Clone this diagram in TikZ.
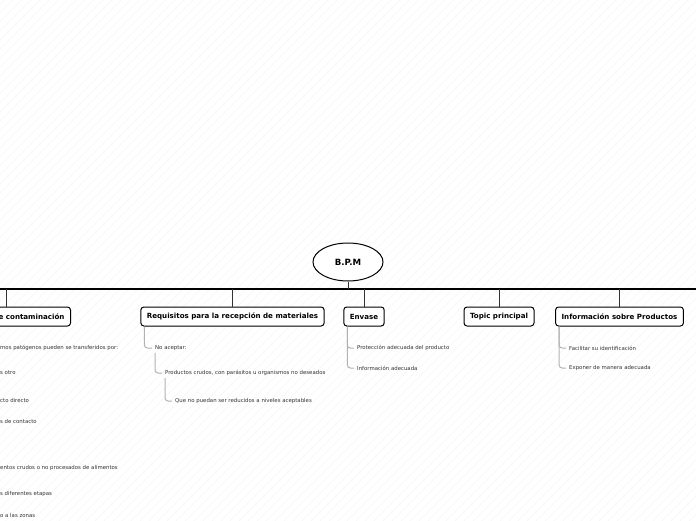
\documentclass[tikz,border=0pt]{standalone}
\usepackage{fontspec}
\setmainfont{DejaVu Sans}
\usetikzlibrary{shapes.geometric}

\begin{document}
\begin{tikzpicture}[x=1pt, y=-1pt,
    topic/.style={draw, line width=1pt, rounded corners=3pt, fill=white,
        minimum height=19pt, inner xsep=6pt, font=\fontsize{7.1}{8}\selectfont\bfseries},
    sub/.style={anchor=west, inner sep=0pt, text=black!80,
        font=\fontsize{5.4}{6}\selectfont},
    link/.style={draw=black!30, line width=1pt, rounded corners=3pt, shorten >=3pt},
    branch/.style={draw=black!80, line width=1pt}]
    \useasboundingbox (0,0) rectangle (696,520);
    \clip (0,0) rectangle (696,520);

    % faint hatching of the canvas
    \foreach \i in {0,9,...,1224}
        \draw[black!4, line width=0.4pt] (\i-530,525) -- (\i,-5);

    % central idea
    \node[draw, line width=1pt, ellipse, minimum width=70pt, minimum height=38pt,
        fill=white, font=\fontsize{8.6}{10}\selectfont\bfseries] (bpm) at (348,262) {B.P.M};
    \coordinate (bl) at (0,289);
    \coordinate (br) at (696,289);
    \draw[line width=1.6pt] (bl) -- (br);
    \draw[branch] (bpm.south) -- (bpm.south |- bl);

    % main topics
    \node[topic, anchor=east, text width=80pt, align=right] (cont) at (71,316.5) {e contaminación};
    \node[topic] (req) at (232.5,316.5) {Requisitos para la recepción de materiales};
    \node[topic] (env) at (364,316.5) {Envase};
    \node[topic] (top) at (499,316.5) {Topic principal};
    \node[topic] (inf) at (619.5,316.5) {Información sobre Productos};

    \coordinate (c0) at (6,289);
    \draw[branch] (c0) -- (c0 |- cont.north);
    \foreach \t in {req,env,top,inf}
        \draw[branch] (\t.north) -- (\t.north |- bl);

    % left branch (cut by the page edge)
    \node[sub] (l1) at (0,348) {mos patógenos pueden se transferidos por:};
    \node[sub] (l2) at (0,373) {s otro};
    \node[sub] (l3) at (0,400) {cto directo};
    \node[sub] (l4) at (0,421) {s de contacto};
    \node[sub] (l5) at (0,468) {entos crudos o no procesados de  alimentos};
    \node[sub] (l6) at (0,494) {s diferentes etapas};
    \node[sub] (l7) at (0,515) {o a las zonas};

    % requisitos
    \node[sub] (na) at (155,348) {No aceptar:};
    \node[sub] (pc) at (165,373) {Productos crudos, con parásitos u organismos no deseados};
    \node[sub] (qn) at (175,401) {Que no puedan ser reducidos a niveles aceptables};
    \draw[link] ([xshift=4pt]req.south west) |- (na.west);
    \draw[link] (155,353) |- (pc.west);
    \draw[link] (165,378) |- (qn.west);

    % envase
    \node[sub] (pa) at (357,348) {Protección adecuada del producto};
    \node[sub] (ia) at (357,368) {Información adecuada};
    \draw[link] ([xshift=4pt]env.south west) |- (pa.west);
    \draw[link] ([xshift=4pt]env.south west) |- (ia.west);

    % informacion
    \node[sub] (fi) at (569,348) {Facilitar su identificación};
    \node[sub] (em) at (569,368) {Exponer de manera adecuada};
    \draw[link] ([xshift=4pt]inf.south west) |- (fi.west);
    \draw[link] ([xshift=4pt]inf.south west) |- (em.west);
\end{tikzpicture}
\end{document}
